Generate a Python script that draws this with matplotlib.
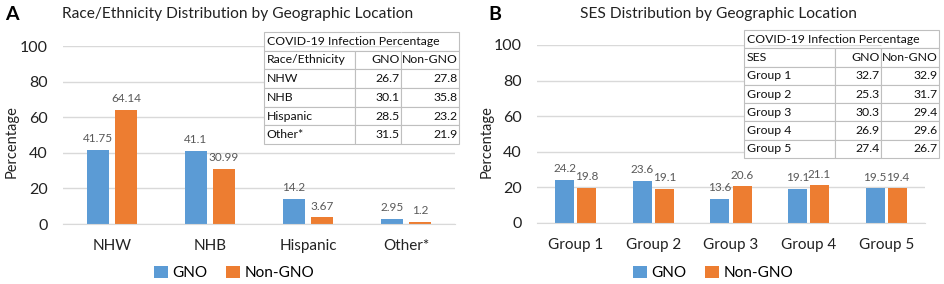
import matplotlib
matplotlib.use("Agg")
import matplotlib.pyplot as plt
import numpy as np

plt.rcParams['font.family'] = ['Lato', 'DejaVu Sans']

BLUE = '#5B9BD5'
ORANGE = '#ED7D31'
GRID = '#D9D9D9'
LABEL = '#595959'

# panel A data
race_cats = ['NHW', 'NHB', 'Hispanic', 'Other*']
race_gno = [41.75, 41.1, 14.2, 2.95]
race_non = [64.14, 30.99, 3.67, 1.2]
race_gno_txt = ['41.75', '41.1', '14.2', '2.95']
race_non_txt = ['64.14', '30.99', '3.67', '1.2']
race_tab_gno = ['26.7', '30.1', '28.5', '31.5']
race_tab_non = ['27.8', '35.8', '23.2', '21.9']

# panel B data
ses_cats = ['Group 1', 'Group 2', 'Group 3', 'Group 4', 'Group 5']
ses_gno = [24.2, 23.6, 13.6, 19.1, 19.5]
ses_non = [19.8, 19.1, 20.6, 21.1, 19.4]
ses_tab_gno = ['32.7', '25.3', '30.3', '26.9', '27.4']
ses_tab_non = ['32.9', '31.7', '29.4', '29.6', '26.7']

yticks = [0, 20, 40, 60, 80, 100]

fig = plt.figure(figsize=(9.45, 2.84), dpi=100)


def bar_panel(rect, cats, gno, non, gno_txt, non_txt, width, off):
    ax = fig.add_axes(rect)
    x = np.arange(len(cats))
    b1 = ax.bar(x - off, gno, width, color=BLUE, label='GNO', zorder=2)
    b2 = ax.bar(x + off, non, width, color=ORANGE, label='Non-GNO', zorder=2)
    for bars, txt in ((b1, gno_txt), (b2, non_txt)):
        for b, t in zip(bars, txt):
            ax.annotate(t, (b.get_x() + b.get_width() / 2, b.get_height()),
                        xytext=(0, 4), textcoords='offset points',
                        ha='center', va='bottom', fontsize=8.5, color=LABEL)
    ax.set_xlim(-0.5, len(cats) - 0.5)
    ax.set_ylim(0, 100)
    ax.set_yticks(yticks)
    ax.set_xticks(x)
    ax.set_xticklabels(cats)
    ax.tick_params(axis='y', length=0, pad=11, labelsize=11.5, colors='#222222')
    ax.tick_params(axis='x', length=0, pad=11, labelsize=11, colors='#222222')
    ax.yaxis.grid(True, color=GRID, linewidth=1, zorder=0)
    ax.set_axisbelow(True)
    for s in ['top', 'right', 'left']:
        ax.spines[s].set_visible(False)
    ax.spines['bottom'].set_color(GRID)
    ax.set_ylabel('Percentage', fontsize=10.5, color='#222222')
    return ax


def table_panel(rect, head, rows, gno, non):
    tax = fig.add_axes(rect)
    tax.axis('off')
    cells = [['', '', ''], [head, 'GNO', 'Non-GNO']]
    cells += [[r, g, n] for r, g, n in zip(rows, gno, non)]
    tab = tax.table(cellText=cells, bbox=[0, 0, 1, 1],
                    colWidths=[91 / 195, 46 / 195, 58 / 195])
    tab.auto_set_font_size(False)
    tab.set_fontsize(8.8)
    for (r, c), cell in tab.get_celld().items():
        cell.set_edgecolor('#BFBFBF')
        cell.set_linewidth(0.8)
        cell.PAD = 0.03
        cell.get_text().set_color('#111111')
        if c == 0:
            cell.get_text().set_ha('left')
            cell._loc = 'left'
        else:
            cell.get_text().set_ha('right')
            cell._loc = 'right'
        if r == 0:
            cell.visible_edges = {0: 'BTL', 1: 'BT', 2: 'BTR'}[c]
    nrows = len(cells)
    tax.text(0.015, 1 - 0.5 / nrows, 'COVID-19 Infection Percentage',
             transform=tax.transAxes, ha='left', va='center',
             fontsize=8.8, color='#111111', zorder=10)
    return tax


axA = bar_panel([63 / 945, 60 / 284, 392 / 945, 178 / 284],
                race_cats, race_gno, race_non, race_gno_txt, race_non_txt,
                0.224, 0.143)
axB = bar_panel([537 / 945, 61 / 284, 388 / 945, 178 / 284],
                ses_cats, ses_gno, ses_non,
                [str(v) for v in ses_gno], [str(v) for v in ses_non],
                0.245, 0.142)
axA.yaxis.set_label_coords(19 / 945, 0.5, transform=fig.transFigure)
axB.yaxis.set_label_coords(494 / 945, 0.5, transform=fig.transFigure)

table_panel([264 / 945, 140 / 284, 195 / 945, 112 / 284],
            'Race/Ethnicity', race_cats, race_tab_gno, race_tab_non)
table_panel([744 / 945, 126 / 284, 195 / 945, 128 / 284],
            'SES', ses_cats, ses_tab_gno, ses_tab_non)

fig.text(238 / 945, 1 - 14 / 284, 'Race/Ethnicity Distribution by Geographic Location',
         ha='center', va='center', fontsize=11.2, color='#222222')
fig.text(718 / 945, 1 - 14 / 284, 'SES Distribution by Geographic Location',
         ha='center', va='center', fontsize=11.2, color='#222222')
fig.text(5 / 945, 1 - 14 / 284, 'A', ha='left', va='center', fontsize=14, fontweight='bold')
fig.text(488 / 945, 1 - 14 / 284, 'B', ha='left', va='center', fontsize=14, fontweight='bold')

for ax, cx in ((axA, 234), (axB, 713)):
    ax.legend(loc='center', bbox_to_anchor=(cx / 945, 11 / 284),
              bbox_transform=fig.transFigure, ncol=2, frameon=False,
              fontsize=11, handlelength=0.9, handleheight=0.9,
              handletextpad=0.3, columnspacing=1.2)

fig.savefig('out.png', dpi=100)
